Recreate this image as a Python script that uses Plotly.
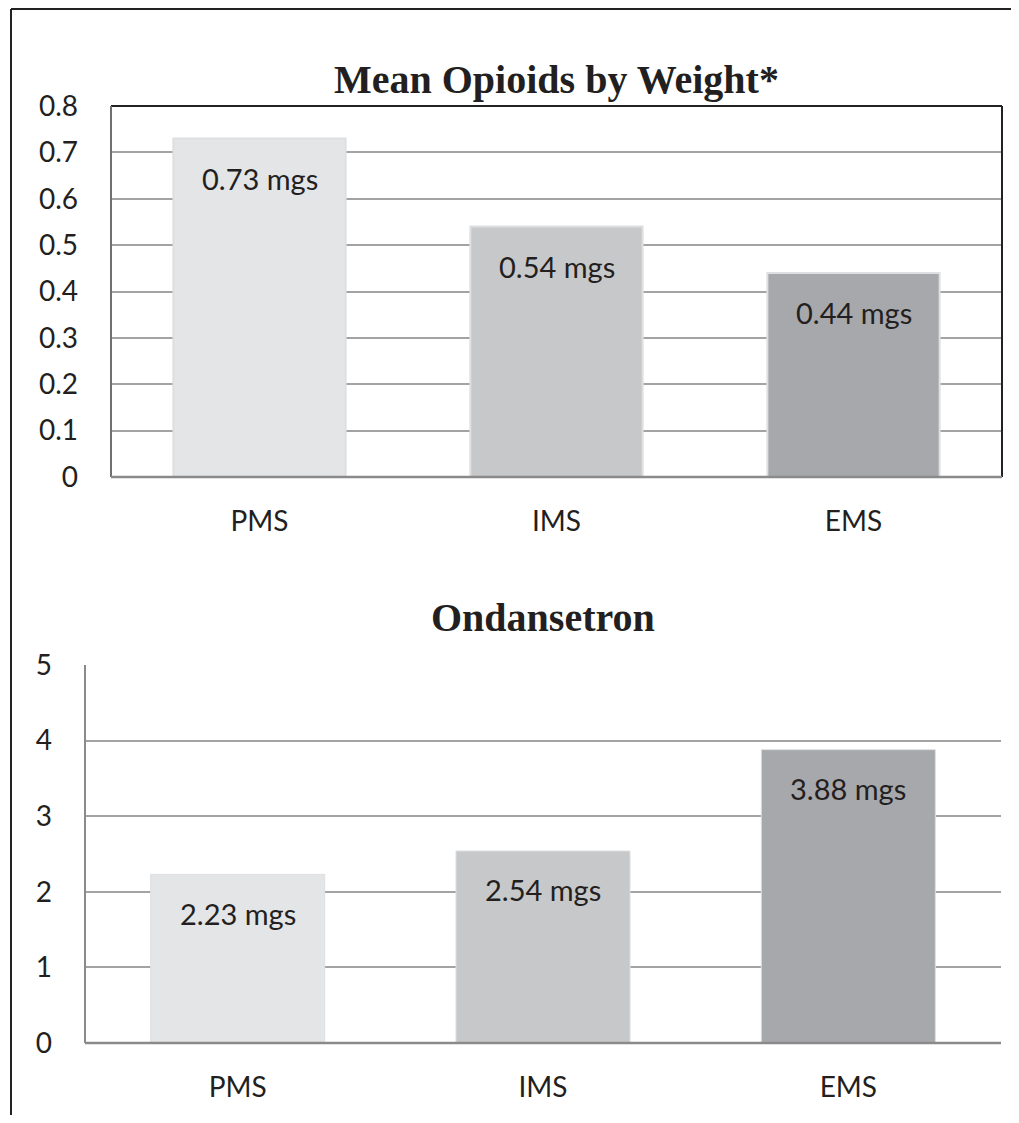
import plotly.graph_objects as go

categories = ["PMS", "IMS", "EMS"]
opioid_values = [0.73, 0.54, 0.44]
ondansetron_values = [2.23, 2.54, 3.88]
bar_colors = ["#e4e5e7", "#c7c8ca", "#a7a8ab"]
opioid_ticks = [0, 0.1, 0.2, 0.3, 0.4, 0.5, 0.6, 0.7, 0.8]
opioid_tick_text = ["0", "0.1", "0.2", "0.3", "0.4", "0.5", "0.6", "0.7", "0.8"]
ond_ticks = [0, 1, 2, 3, 4, 5]
title1 = "Mean Opioids by Weight*"
title2 = "Ondansetron"

# page body has an 8px margin; figure is sized so the page fits the window exactly
OFF = 8
W, H = 1019 - 2 * OFF, 1123 - 2 * OFF
FONT = "Lato, 'Open Sans', sans-serif"
TXT = "#231f20"


def fx(v):
    return (v - OFF) / W


def fy(v):
    return 1 - (v - OFF) / H


fig = go.Figure()
fig.add_trace(go.Bar(x=categories, y=opioid_values,
                     marker=dict(color=bar_colors, line=dict(color="#dedfe1", width=2)),
                     width=0.58, xaxis="x", yaxis="y", showlegend=False, hoverinfo="skip"))
fig.add_trace(go.Bar(x=categories, y=ondansetron_values,
                     marker=dict(color=bar_colors, line=dict(color="#dedfe1", width=1)),
                     width=0.57, xaxis="x2", yaxis="y2", showlegend=False, hoverinfo="skip"))

top_dom_x = [fx(111), fx(1002)]
top_dom_y = [fy(477), fy(106)]
bot_dom_x = [fx(85), fx(1001)]
bot_dom_y = [fy(1043), fy(665)]

axis_common = dict(zeroline=False, ticks="", automargin=False, showline=False,
                   tickfont=dict(family=FONT, size=28, color=TXT), fixedrange=True)
fig.update_layout(
    width=W, height=H, margin=dict(l=0, r=0, t=0, b=0, autoexpand=False),
    paper_bgcolor="white", plot_bgcolor="white",
    xaxis=dict(domain=top_dom_x, anchor="y", showgrid=False, ticklabelstandoff=25, **axis_common),
    yaxis=dict(domain=top_dom_y, anchor="x", range=[0, 0.8], tickvals=opioid_ticks, ticktext=opioid_tick_text,
               showgrid=True, gridcolor="#a3a3a3", gridwidth=2, ticklabelstandoff=32, **axis_common),
    xaxis2=dict(domain=bot_dom_x, anchor="y2", showgrid=False, ticklabelstandoff=25, **axis_common),
    yaxis2=dict(domain=bot_dom_y, anchor="x2", range=[0, 5], tickvals=ond_ticks,
                showgrid=True, gridcolor="#a3a3a3", gridwidth=2, ticklabelstandoff=32, **axis_common),
)

shapes = []
# top chart frame
shapes.append(dict(type="line", xref="x domain", yref="y domain", x0=0, x1=1, y0=1, y1=1, line=dict(color="#222222", width=2)))
shapes.append(dict(type="line", xref="x domain", yref="y domain", x0=1, x1=1, y0=0, y1=1, line=dict(color="#222222", width=2)))
shapes.append(dict(type="line", xref="x domain", yref="y domain", x0=0, x1=0, y0=0, y1=1, line=dict(color="#707070", width=2)))
shapes.append(dict(type="line", xref="x domain", yref="y domain", x0=0, x1=1, y0=0, y1=0, line=dict(color="#8a8a8a", width=2.5)))
# bottom chart axes
shapes.append(dict(type="line", xref="x2 domain", yref="y2 domain", x0=0, x1=0, y0=0, y1=1, line=dict(color="#8a8a8a", width=2)))
shapes.append(dict(type="line", xref="x2 domain", yref="y2 domain", x0=0, x1=1, y0=0, y1=0, line=dict(color="#8a8a8a", width=2.5)))
# outer frame (top edge drawn as close to the page top as the figure allows)
shapes.append(dict(type="line", xref="paper", yref="paper", x0=fx(11), x1=1, y0=fy(9), y1=fy(9), line=dict(color="#222222", width=2)))
shapes.append(dict(type="line", xref="paper", yref="paper", x0=fx(11), x1=fx(11), y0=0, y1=fy(9), line=dict(color="#222222", width=2)))
fig.update_layout(shapes=shapes)

annotations = []
for c, v in zip(categories, opioid_values):
    annotations.append(dict(x=c, y=v, xref="x", yref="y", text=f"{v:.2f} mgs", showarrow=False, yshift=-40,
                            font=dict(family=FONT, size=29, color=TXT)))
for c, v in zip(categories, ondansetron_values):
    annotations.append(dict(x=c, y=v, xref="x2", yref="y2", text=f"{v:.2f} mgs", showarrow=False, yshift=-39,
                            font=dict(family=FONT, size=29, color=TXT)))
SERIF = "'Liberation Serif', 'Times New Roman', serif"
annotations.append(dict(x=fx(556), y=fy(55), xref="paper", yref="paper", text=f"<b>{title1}</b>", showarrow=False,
                        font=dict(family=SERIF, size=40, color=TXT)))
annotations.append(dict(x=fx(543), y=fy(617), xref="paper", yref="paper", text=f"<b>{title2}</b>", showarrow=False,
                        font=dict(family=SERIF, size=40, color=TXT)))
fig.update_layout(annotations=annotations)

fig.write_html("out.html")
